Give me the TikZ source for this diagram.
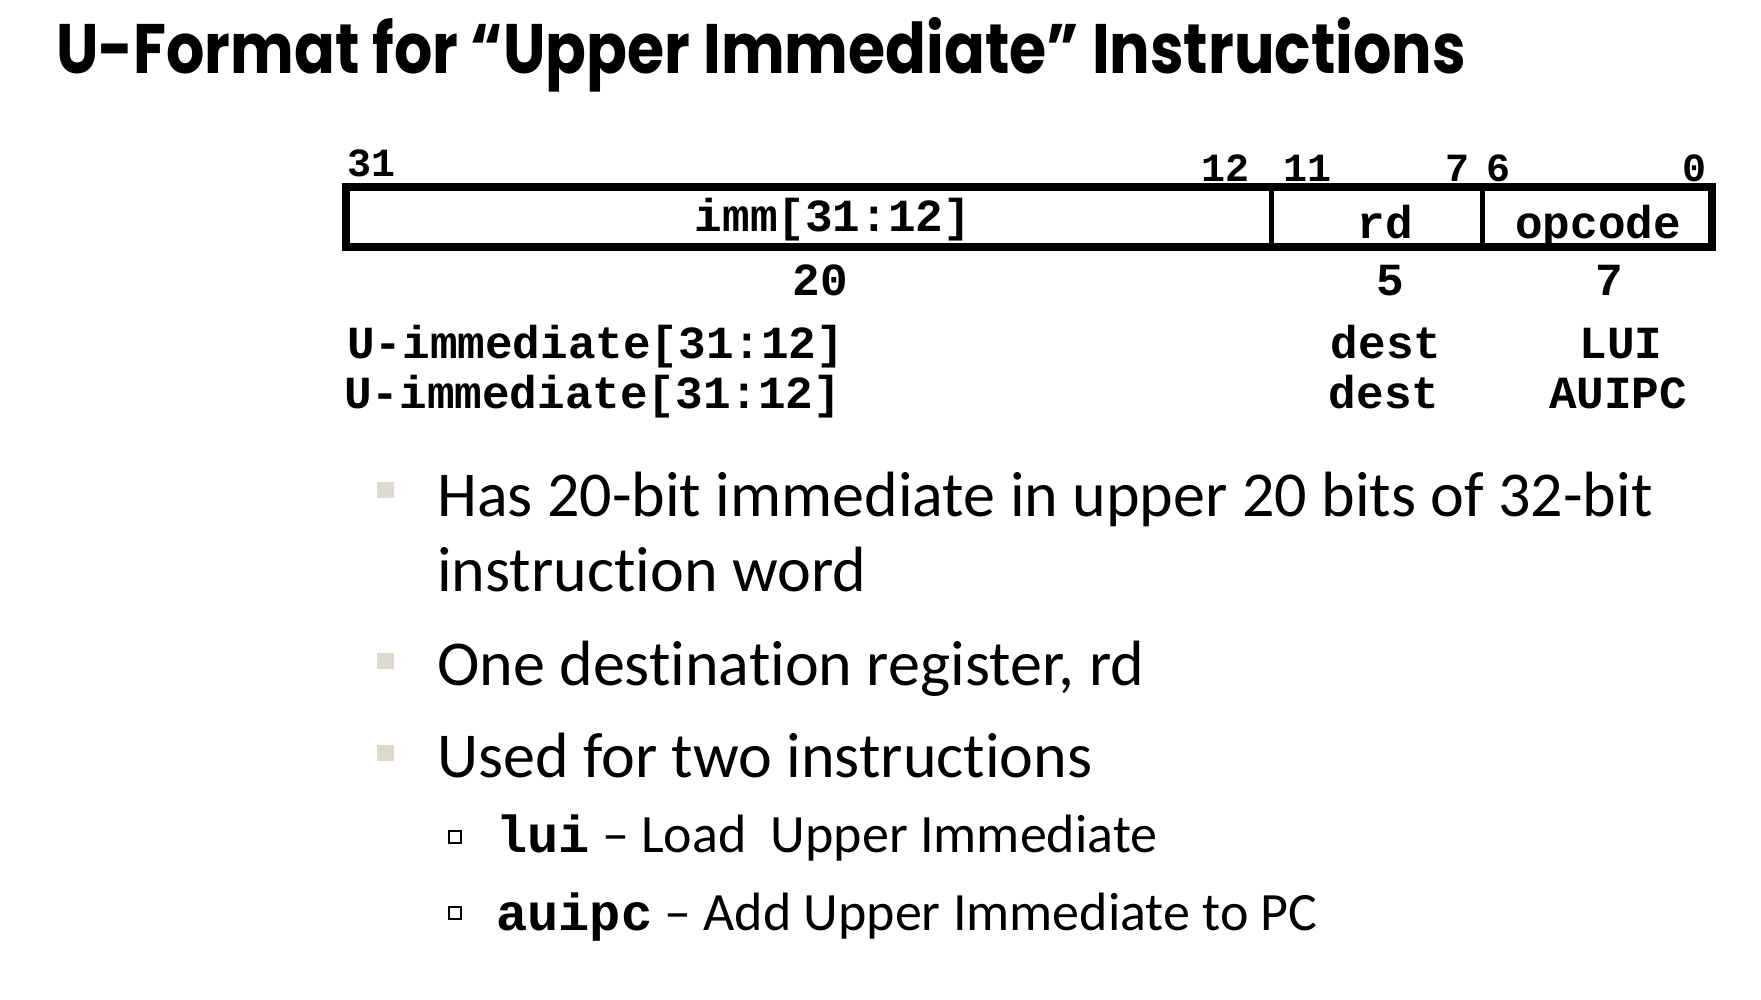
\documentclass[tikz,border=0pt]{standalone}
\usepackage{fontspec}
\setmainfont{Carlito}[Ligatures=NoCommon]
\newfontfamily\monofont{Liberation Mono}
\newfontfamily\titlefont{Poppins}[FakeStretch=0.86]
\definecolor{bulletbeige}{RGB}{221,217,206}

\begin{document}
\begin{tikzpicture}[x=1pt,y=-1pt,
  titletext/.style={inner sep=0pt,font=\titlefont\bfseries\fontsize{70}{80}\selectfont},
  bitnum/.style={inner sep=0pt,font=\monofont\bfseries\fontsize{40}{48}\selectfont},
  fieldtext/.style={inner sep=0pt,font=\monofont\bfseries\fontsize{46}{55}\selectfont},
  bodytext/.style={inner sep=0pt,anchor=base west,font=\fontsize{64}{76}\selectfont},
  subtext/.style={inner sep=0pt,anchor=base west,font=\fontsize{54}{64}\selectfont},
  outerline/.style={line width=8pt},
  innerline/.style={line width=5pt},
  bulletsq/.style={fill=bulletbeige},
  subsq/.style={draw=black,line width=2pt,fill=white}]
\useasboundingbox (0,0) rectangle (1761,999);%
% title
\node[titletext,anchor=base west] (title) at (56,73) {U-Format for “Upper Immediate” Instructions};%
% bit positions
\node[bitnum,anchor=base west] (b31) at (347,176) {31};%
\node[bitnum,anchor=base east] (b12) at (1250,181) {12};%
\node[bitnum,anchor=base west] (b11) at (1283,181) {11};%
\node[bitnum,anchor=base east] (b7) at (1470,181) {7};%
\node[bitnum,anchor=base west] (b6) at (1486,181) {6};%
\node[bitnum,anchor=base east] (b0) at (1707,181) {0};%
% instruction word
\draw[outerline] (346,187) rectangle (1712,247);%
\draw[innerline] (1271,187) -- (1271,247);%
\draw[innerline] (1482,187) -- (1482,247);%
\node[fieldtext,anchor=base] (imm) at (833,231) {imm[31:12]};%
\node[fieldtext,anchor=base] (rd) at (1385,238) {rd};%
\node[fieldtext,anchor=base] (opcode) at (1598,238) {opcode};%
% field widths
\node[fieldtext,anchor=base] (w20) at (820,295) {20};%
\node[fieldtext,anchor=base] (w5) at (1390,295) {5};%
\node[fieldtext,anchor=base] (w7) at (1609,295) {7};%
% the two instructions
\node[fieldtext,anchor=base west] (immlui) at (347,358) {U-immediate[31:12]};%
\node[fieldtext,anchor=base] (destlui) at (1386,358) {dest};%
\node[fieldtext,anchor=base] (oplui) at (1621,358) {LUI};%
\node[fieldtext,anchor=base west] (immauipc) at (344,408) {U-immediate[31:12]};%
\node[fieldtext,anchor=base] (destauipc) at (1384,408) {dest};%
\node[fieldtext,anchor=base] (opauipc) at (1618,408) {AUIPC};%
% bullets
\fill[bulletsq] (377,482) rectangle (394,498);%
\node[bodytext] (pt1a) at (437,516) {Has 20-bit immediate in upper 20 bits of 32-bit};%
\node[bodytext] (pt1b) at (437,591) {instruction word};%
\fill[bulletsq] (377,653) rectangle (394,669);%
\node[bodytext] (pt2) at (437,685) {One destination register, rd};%
\fill[bulletsq] (377,745) rectangle (394,761);%
\node[bodytext] (pt3) at (437,777) {Used for two instructions};%
% sub bullets
\draw[subsq] (449,831) rectangle (461,843);%
\node[subtext] (sub1) at (496,852) {{\monofont\bfseries\fontsize{52}{62}\selectfont lui} – Load\ \ Upper Immediate};%
\draw[subsq] (449,907) rectangle (461,919);%
\node[subtext] (sub2) at (496,930) {{\monofont\bfseries\fontsize{52}{62}\selectfont auipc} – Add Upper Immediate to PC};%
\end{tikzpicture}
\end{document}
